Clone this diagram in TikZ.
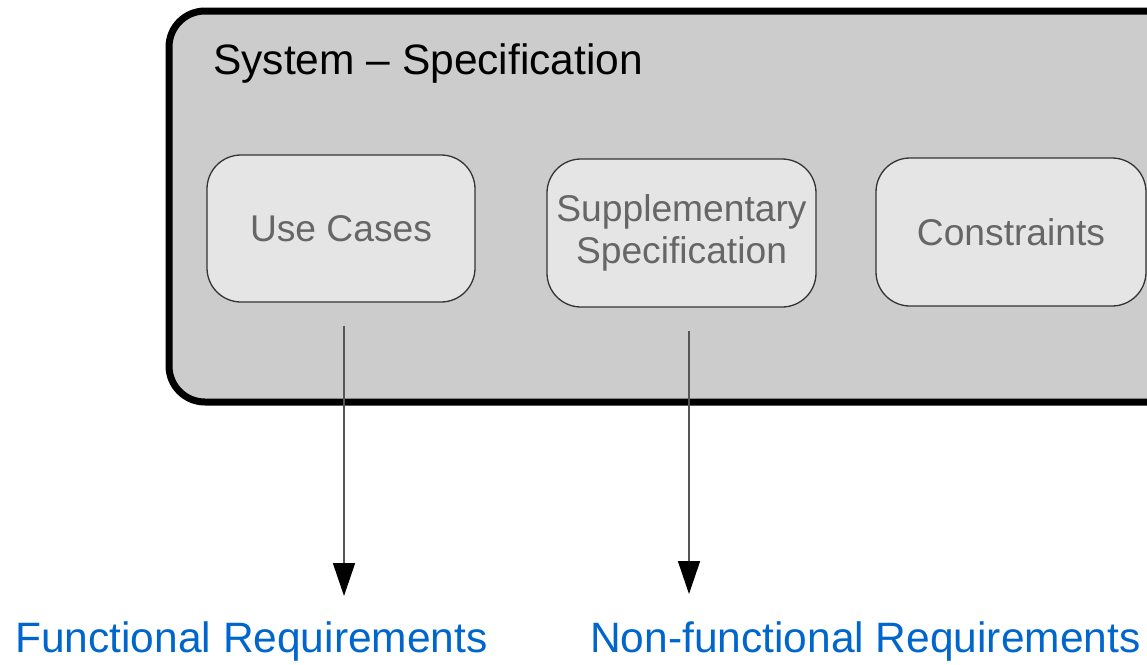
\documentclass[tikz,border=0pt]{standalone}
\usepackage{fontspec}
\setmainfont{Liberation Sans}
\usetikzlibrary{arrows.meta}
\definecolor{outerfill}{HTML}{CCCCCC}
\definecolor{innerfill}{HTML}{E5E5E5}
\definecolor{innertext}{HTML}{666666}
\definecolor{innerline}{HTML}{333333}
\definecolor{linkblue}{HTML}{0066CC}
\definecolor{arrowline}{HTML}{555555}
\tikzset{
  partbox/.style={draw=innerline, line width=1.3pt, fill=innerfill, rounded corners=34pt,
    text=innertext, align=center, font=\fontsize{37.2}{42}\selectfont, inner sep=0pt},
  reqlabel/.style={text=linkblue, font=\fontsize{42.5}{50}\selectfont, inner sep=0pt, anchor=base west},
  flow/.style={draw=arrowline, line width=1.6pt,
    -{Triangle[length=33pt,width=22pt,fill=black,color=black]}}
}
\begin{document}
\begin{tikzpicture}[x=1pt,y=-1pt]
  \useasboundingbox (0,0) rectangle (1147,664);
  \clip (0,0) rectangle (1147,664);
  % enclosing system container
  \draw[line width=7pt, fill=outerfill, rounded corners=36pt] (169,11) rectangle (1190,402);
  \node[anchor=base west, inner sep=0pt, font=\fontsize{42.5}{50}\selectfont] (title) at (213,74) {System – Specification};
  % contained artefacts
  \node[partbox, minimum width=268pt, minimum height=147pt] (uc) at (341,228.5) {Use Cases};
  \node[partbox, minimum width=269pt, minimum height=148pt] (ss) at (681.5,233) {Supplementary\\Specification};
  \node[partbox, minimum width=270pt, minimum height=148pt] (cs) at (1011,232) {Constraints};
  % requirement categories
  \node[reqlabel] (fr) at (15,652) {Functional Requirements};
  \node[reqlabel] (nfr) at (590,652) {Non-functional Requirements};
  \coordinate (frtip) at (344,596);
  \coordinate (nfrtip) at (689,594);
  \draw[flow] (uc.south -| frtip) ++(0,23) -- (frtip);
  \draw[flow] (ss.south -| nfrtip) ++(0,23) -- (nfrtip);
\end{tikzpicture}
\end{document}
